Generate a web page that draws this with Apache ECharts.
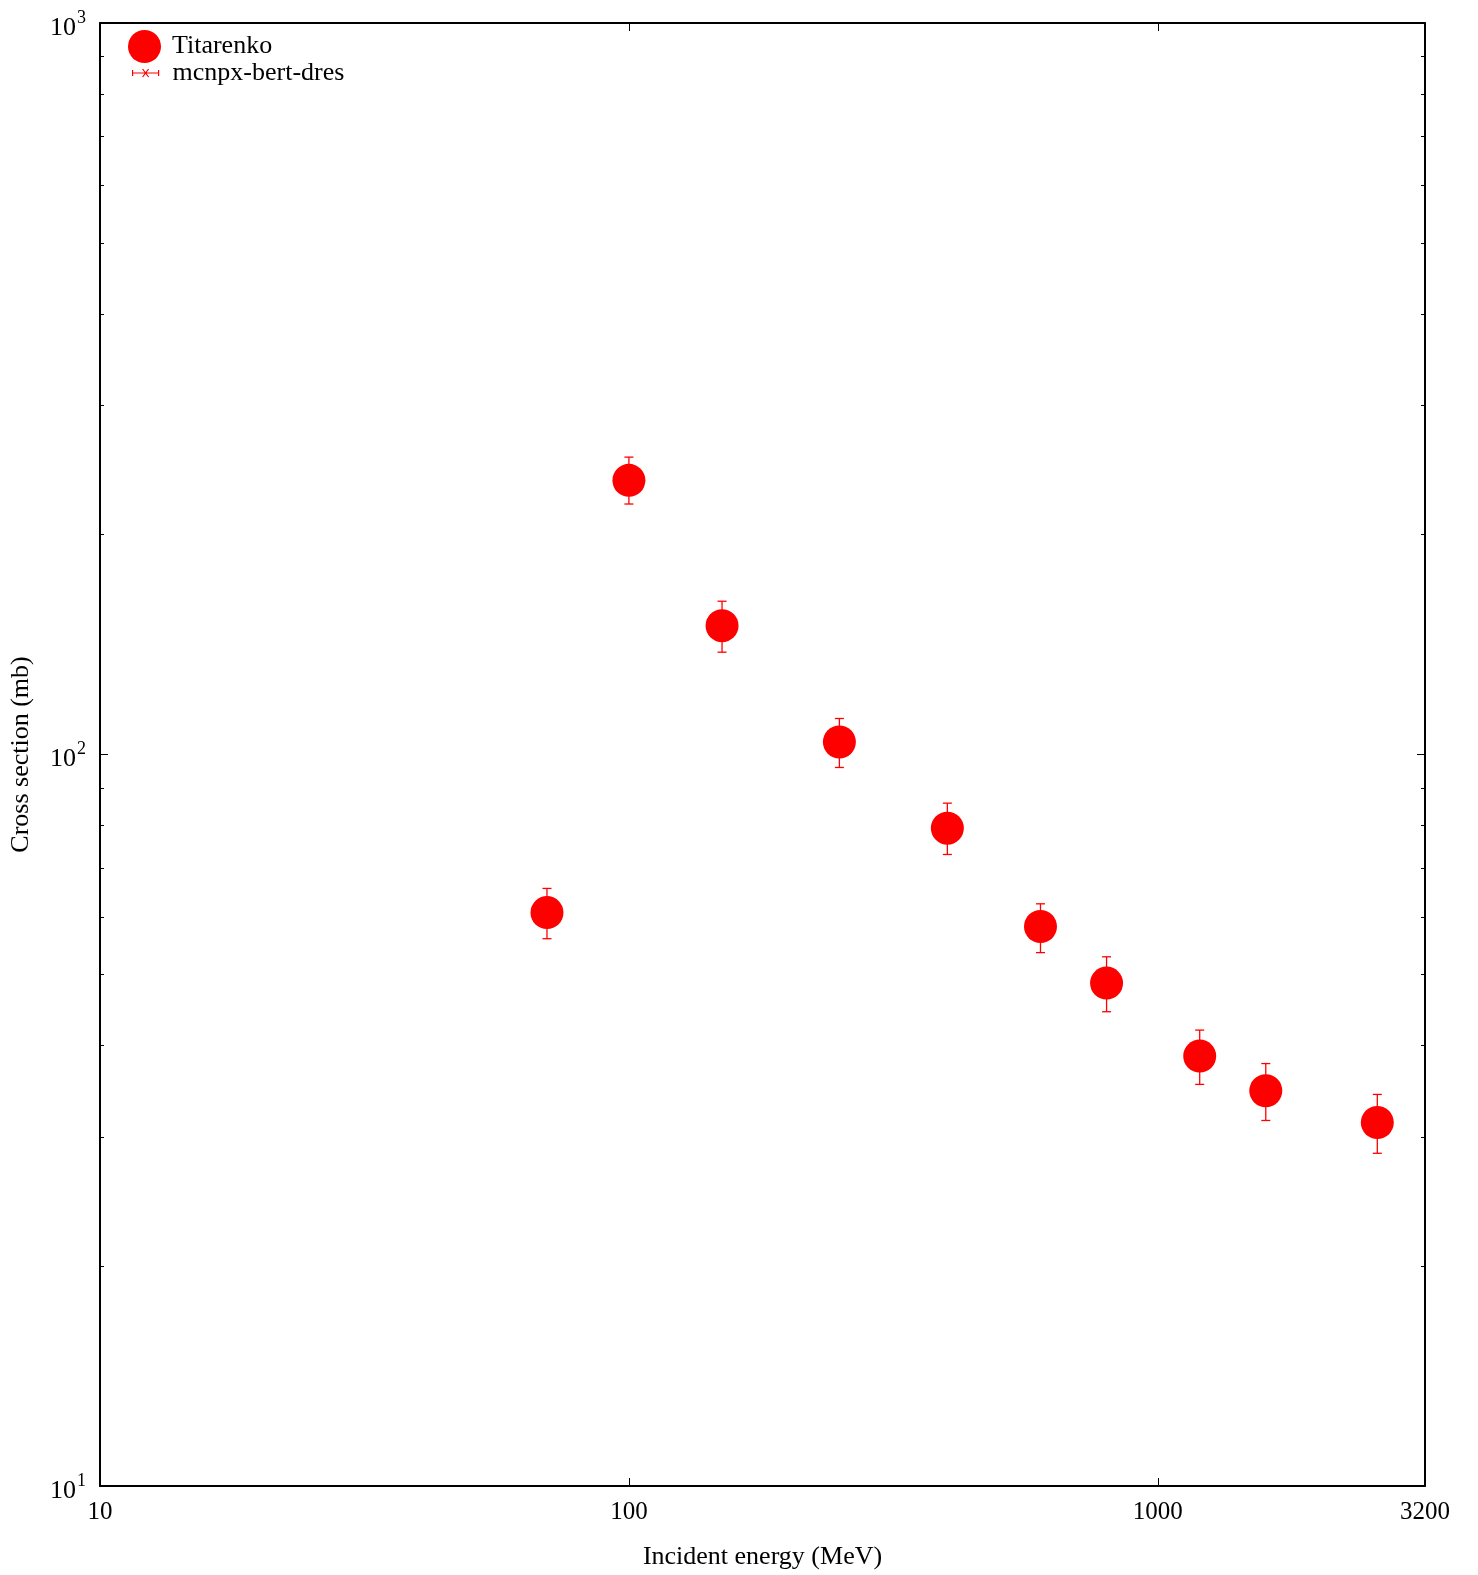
<!DOCTYPE html>
<html>
<head>
<meta charset="utf-8">
<script src="https://cdn.jsdelivr.net/npm/echarts@6/dist/echarts.min.js"></script>
<style>
html,body{margin:0;padding:0;background:#fff;}
#chart{width:1478px;height:1575px;}
</style>
</head>
<body>
<div id="chart"></div>
<script>
// Data (incident energy in MeV, cross section in mb)
const energies = [70, 100, 150, 250, 400, 600, 800, 1200, 1600, 2600];
const crossSections = [60.8, 237, 150, 104, 79.3, 58.2, 48.7, 38.7, 34.7, 31.4];
const errUpper = [65.6, 255, 162, 112, 85.8, 62.5, 52.9, 42.0, 37.8, 34.3];
const errLower = [56.0, 220, 138, 96, 73.0, 53.6, 44.5, 35.4, 31.6, 28.5];
const xTickLabels = [10, 100, 1000, 3200];
const xMajorTicks = [100, 1000];
const yMajorTicks = [10, 100, 1000];
const yMinorTicks = [20, 30, 40, 50, 60, 70, 80, 90, 200, 300, 400, 500, 600, 700, 800, 900];

const FONT = 'Liberation Serif';
const RED = '#ff0000';

const chart = echarts.init(document.getElementById('chart'), null, {renderer: 'canvas'});

const scatterData = energies.map((e, i) => [e, crossSections[i]]);
const errData = energies.map((e, i) => [e, errLower[i], errUpper[i]]);

function yAxisBase(extra) {
  return Object.assign({
    type: 'log', logBase: 10, min: 10, max: 1000,
    splitLine: {show: false},
    axisLine: {show: false},
    axisLabel: {show: false},
    axisTick: {show: false}
  }, extra);
}

const option = {
  backgroundColor: '#fff',
  animation: false,
  grid: {left: 100, right: 53, top: 23, bottom: 88, containLabel: false},
  legend: [
    {
      left: 123, top: 25, orient: 'vertical',
      itemWidth: 33, itemHeight: 33,
      textStyle: {fontFamily: FONT, fontSize: 26, color: '#000', padding: [0, 0, 0, 6]},
      data: [{name: 'Titarenko', icon: 'circle'}],
      selectedMode: false
    },
    {
      left: 127, top: 55, orient: 'vertical',
      itemWidth: 26, itemHeight: 12,
      textStyle: {fontFamily: FONT, fontSize: 26, color: '#000', padding: [0, 0, 0, 9]},
      data: [{
        name: 'mcnpx-bert-dres',
        icon: 'path://M0,3 L0,9 M0,6 L26,6 M26,3 L26,9 M10,2 L16,10 M10,10 L16,2',
        itemStyle: {color: 'transparent', borderColor: RED, borderWidth: 1.2}
      }],
      selectedMode: false
    }
  ],
  xAxis: [
    {
      type: 'log', logBase: 10, min: 10, max: 3200, position: 'bottom',
      splitLine: {show: false},
      axisLine: {show: true, lineStyle: {color: '#000', width: 2}},
      axisTick: {show: true, inside: true, length: 8, customValues: xMajorTicks, lineStyle: {color: '#000', width: 1}},
      axisLabel: {
        customValues: xTickLabels, margin: 14,
        fontFamily: FONT, fontSize: 25, color: '#000',
        formatter: v => String(Math.round(v))
      },
      name: 'Incident energy (MeV)', nameLocation: 'middle', nameGap: 58,
      nameTextStyle: {fontFamily: FONT, fontSize: 26, color: '#000'}
    },
    {
      type: 'log', logBase: 10, min: 10, max: 3200, position: 'top',
      splitLine: {show: false},
      axisLine: {show: true, lineStyle: {color: '#000', width: 2}},
      axisTick: {show: true, inside: true, length: 8, customValues: xMajorTicks, lineStyle: {color: '#000', width: 1}},
      axisLabel: {show: false}
    }
  ],
  yAxis: [
    yAxisBase({
      position: 'left',
      axisLine: {show: true, lineStyle: {color: '#000', width: 2}},
      axisTick: {show: true, inside: true, length: 8, customValues: yMajorTicks, lineStyle: {color: '#000', width: 1}},
      axisLabel: {
        show: true, customValues: yMajorTicks, margin: 14, padding: [8, 0, 0, 0],
        formatter: v => '{b|10}{s|' + Math.round(Math.log10(v)) + '}',
        rich: {
          b: {fontFamily: FONT, fontSize: 26, color: '#000', verticalAlign: 'bottom', lineHeight: 28, padding: [0, 0, 0, 0]},
          s: {fontFamily: FONT, fontSize: 18, color: '#000', verticalAlign: 'bottom', lineHeight: 28, padding: [0, 0, 14, 1]}
        }
      },
      name: 'Cross section (mb)', nameLocation: 'middle', nameGap: 66,
      nameTextStyle: {fontFamily: FONT, fontSize: 26, color: '#000'}
    }),
    yAxisBase({
      position: 'left',
      axisTick: {show: true, inside: true, length: 4, customValues: yMinorTicks, lineStyle: {color: '#000', width: 1}}
    }),
    yAxisBase({
      position: 'right',
      axisLine: {show: true, lineStyle: {color: '#000', width: 2}},
      axisTick: {show: true, inside: true, length: 8, customValues: yMajorTicks, lineStyle: {color: '#000', width: 1}}
    }),
    yAxisBase({
      position: 'right',
      axisTick: {show: true, inside: true, length: 4, customValues: yMinorTicks, lineStyle: {color: '#000', width: 1}}
    })
  ],
  series: [
    {
      name: 'mcnpx-bert-dres',
      type: 'custom',
      xAxisIndex: 0, yAxisIndex: 0,
      data: errData,
      z: 2,
      renderItem: function (params, api) {
        const x = api.value(0);
        const lo = api.coord([x, api.value(1)]);
        const hi = api.coord([x, api.value(2)]);
        const cap = 4.5;
        const style = {stroke: RED, lineWidth: 1.3, fill: null};
        return {
          type: 'group',
          children: [
            {type: 'line', shape: {x1: lo[0], y1: lo[1], x2: hi[0], y2: hi[1]}, style: style},
            {type: 'line', shape: {x1: hi[0] - cap, y1: hi[1], x2: hi[0] + cap, y2: hi[1]}, style: style},
            {type: 'line', shape: {x1: lo[0] - cap, y1: lo[1], x2: lo[0] + cap, y2: lo[1]}, style: style}
          ]
        };
      },
      itemStyle: {color: RED}
    },
    {
      name: 'Titarenko',
      type: 'scatter',
      xAxisIndex: 0, yAxisIndex: 0,
      symbol: 'circle', symbolSize: 33,
      itemStyle: {color: RED, opacity: 1},
      data: scatterData,
      z: 3
    }
  ]
};

chart.setOption(option);
</script>
</body>
</html>
